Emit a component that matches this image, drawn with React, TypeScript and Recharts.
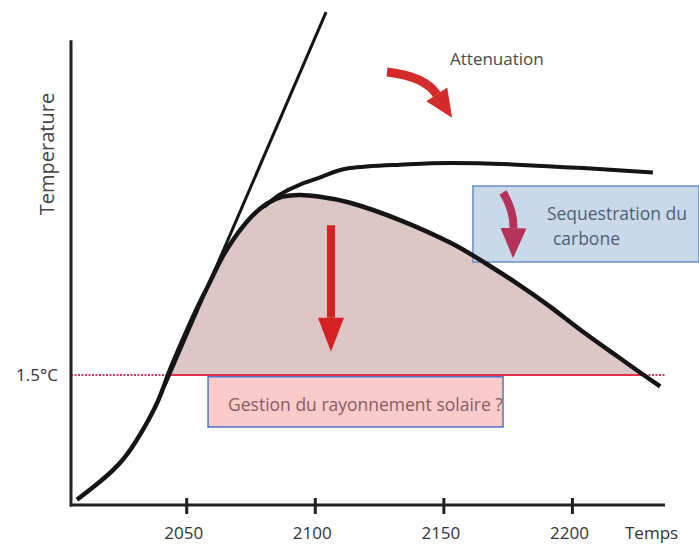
import React from 'react';
import {
  ComposedChart,
  Line,
  Area,
  XAxis,
  YAxis,
  ReferenceLine,
  ReferenceArea,
  ReferenceDot,
} from 'recharts';

const FONT = "'Open Sans', 'Noto Sans', sans-serif";

// reference trajectory: rise, peak, then decline with carbon sequestration
const BASE_YEARS = [2007.3, 2015.5, 2024.8, 2032.6, 2038.8, 2042.7, 2046.6, 2053.2, 2058.3, 2062.9, 2068, 2074.6, 2081.2, 2087.4, 2094.1, 2101.8, 2113.5, 2132.9, 2152.4, 2165.2, 2178.4, 2191.3, 2204.1, 2217.3, 2226.3, 2234.1];
const BASE_TEMPS = [0.06, 0.25, 0.51, 0.85, 1.2, 1.5, 1.78, 2.22, 2.53, 2.81, 3.06, 3.31, 3.48, 3.56, 3.58, 3.56, 3.49, 3.29, 3.03, 2.81, 2.56, 2.29, 2.0, 1.72, 1.53, 1.37];

// mitigation only: plateau
const ATT_YEARS = [2080, 2086, 2094.1, 2103, 2113.5, 2132.9, 2152.4, 2178.4, 2204.1, 2231.3];
const ATT_TEMPS = [3.44, 3.58, 3.7, 3.795, 3.89, 3.93, 3.95, 3.93, 3.89, 3.84];

// no action: straight rise
const NOACT_YEARS = [2041.6, 2104.2];
const NOACT_TEMPS = [1.38, 5.69];

const LIMIT = 1.5;
const LIMIT_START = 2042.7;
const LIMIT_END = 2227.7; // where the decline crosses 1.5°C again
const X_TICKS = [2050, 2100, 2150, 2200];
const X_DOMAIN = [2005, 2236];
const Y_DOMAIN = [0, 5.75];
const Y_AXIS_TOP = 5.365;

const toPoints = (years: number[], temps: number[]) => years.map((year, i) => ({ year, temp: temps[i] }));

const baseData = toPoints(BASE_YEARS, BASE_TEMPS);
const attData = toPoints(ATT_YEARS, ATT_TEMPS);
const noActData = toPoints(NOACT_YEARS, NOACT_TEMPS);
const shadeData = [
  ...baseData.filter(d => d.temp >= LIMIT && d.year < LIMIT_END).map(d => ({ year: d.year, band: [LIMIT, d.temp] })),
  { year: LIMIT_END, band: [LIMIT, LIMIT] },
];

// curved arrow drawn between the two segment ends
function arrowShape(color: string, along: number, bend: number, shaft: number, headLen: number, headW: number) {
  return (p: any) => {
    const { x1, y1, x2, y2 } = p;
    const dx = x2 - x1, dy = y2 - y1;
    const len = Math.hypot(dx, dy);
    const nx = -dy / len, ny = dx / len;
    const cx = x1 + along * dx + bend * len * nx;
    const cy = y1 + along * dy + bend * len * ny;
    const el = Math.hypot(x2 - cx, y2 - cy);
    const hx = (x2 - cx) / el, hy = (y2 - cy) / el;
    const bx = x2 - headLen * hx, by = y2 - headLen * hy;
    return (
      <g>
        <path d={`M${x1},${y1} Q${cx},${cy} ${bx},${by}`} stroke={color} strokeWidth={shaft} fill="none" />
        <polygon
          points={`${x2},${y2} ${bx - hy * headW / 2},${by + hx * headW / 2} ${bx + hy * headW / 2},${by - hx * headW / 2}`}
          fill={color}
        />
      </g>
    );
  };
}

const YearTick = (props: any) => {
  const { x, y, payload } = props;
  return (
    <g>
      <line x1={x} x2={x} y1={y - 7} y2={y + 9} stroke="#222" strokeWidth={3} />
      <text x={x - 3} y={y + 34} textAnchor="middle" fontSize={17} fill="#333" fontFamily={FONT}>
        {payload.value}
      </text>
    </g>
  );
};

const TempsLabel = (props: any) => {
  const vb = props.viewBox;
  return (
    <text x={vb.x + vb.width - 40} y={vb.y + 34} fontSize={17} fill="#333" fontFamily={FONT}>
      Temps
    </text>
  );
};

const TemperatureLabel = () => (
  <text transform="translate(46, 154) rotate(-90)" textAnchor="middle" dominantBaseline="central" fontSize={20} fill="#444" fontFamily={FONT}>
    Temperature
  </text>
);

const BoxText = (props: any) => {
  const { viewBox, lines, color } = props;
  return (
    <g>
      {lines.map((l: any, i: number) => (
        <text key={i} x={viewBox.x + l.dx} y={viewBox.y + l.dy} fontSize={17.5} fill={color} fontFamily={FONT}>
          {l.text}
        </text>
      ))}
    </g>
  );
};

export default function App() {
  return (
    <div style={{ position: 'absolute', left: 0, top: 0, width: 699, height: 545, background: '#fff' }}>
      <ComposedChart width={699} height={545} margin={{ top: 7, right: 34, bottom: 0, left: 0 }}>
        <XAxis
          type="number"
          dataKey="year"
          domain={X_DOMAIN}
          allowDataOverflow
          ticks={X_TICKS}
          height={40}
          axisLine={{ stroke: '#222', strokeWidth: 3 }}
          tickLine={false}
          tickSize={0}
          tickMargin={0}
          tick={<YearTick />}
          label={<TempsLabel />}
        />
        <YAxis
          type="number"
          domain={Y_DOMAIN}
          allowDataOverflow
          width={71}
          ticks={[LIMIT]}
          axisLine={false}
          tickLine={false}
          tickSize={0}
          tickMargin={13}
          tickFormatter={(v: number) => `${v}°C`}
          tick={{ fontSize: 17, fill: '#333', fontFamily: FONT }}
          label={<TemperatureLabel />}
        />

        <Area data={shadeData} dataKey="band" type="natural" fill="#dcc6c6" fillOpacity={1} stroke="none" isAnimationActive={false} />

        <ReferenceLine y={LIMIT} stroke="#c8386a" strokeWidth={2} strokeDasharray="2 1.5" />
        <ReferenceLine segment={[{ x: LIMIT_START, y: LIMIT }, { x: LIMIT_END, y: LIMIT }]} stroke="#e0304a" strokeWidth={2} />

        <ReferenceLine segment={[{ x: 2005, y: -0.02 }, { x: 2005, y: Y_AXIS_TOP }]} stroke="#222" strokeWidth={3} ifOverflow="visible" />

        <ReferenceArea
          x1={2058.3}
          x2={2173}
          y1={0.9}
          y2={1.48}
          fill="#f9cbcb"
          fillOpacity={1}
          stroke="#4d74c4"
          strokeWidth={1.5}
          ifOverflow="visible"
          label={<BoxText color="#8b5a5f" lines={[{ text: 'Gestion du rayonnement solaire ?', dx: 20, dy: 34 }]} />}
        />
        <ReferenceArea
          x1={2161.3}
          x2={2249.2}
          y1={2.806}
          y2={3.683}
          fill="#cad9ea"
          fillOpacity={1}
          stroke="#6d8ec6"
          strokeWidth={1.5}
          ifOverflow="visible"
          label={
            <BoxText
              color="#4e5f72"
              lines={[
                { text: 'Sequestration du', dx: 74, dy: 34 },
                { text: 'carbone', dx: 80, dy: 59 },
              ]}
            />
          }
        />

        <Line data={noActData} dataKey="temp" type="linear" stroke="#151515" strokeWidth={3} dot={false} isAnimationActive={false} />
        <Line data={attData} dataKey="temp" type="natural" stroke="#151515" strokeWidth={4} dot={false} isAnimationActive={false} />
        <Line data={baseData} dataKey="temp" type="natural" stroke="#151515" strokeWidth={4.5} dot={false} isAnimationActive={false} />

        <ReferenceLine
          segment={[{ x: 2127.9, y: 5.0 }, { x: 2153.2, y: 4.47 }]}
          ifOverflow="visible"
          shape={arrowShape('#d32a2a', 0.42, -0.23, 9, 28, 25)}
        />
        <ReferenceLine
          segment={[{ x: 2106.1, y: 3.23 }, { x: 2106.1, y: 1.77 }]}
          ifOverflow="visible"
          shape={arrowShape('#d42222', 0.5, 0, 8, 34, 26)}
        />
        <ReferenceLine
          segment={[{ x: 2173.0, y: 3.61 }, { x: 2176.9, y: 2.85 }]}
          ifOverflow="visible"
          shape={arrowShape('#b5335a', 0.29, -0.12, 8, 30, 26)}
        />

        <ReferenceDot
          x={2152.4}
          y={5.08}
          r={0}
          ifOverflow="visible"
          shape={(p: any) => (
            <text x={p.cx} y={p.cy} fontSize={17} fill="#4a4a4a" fontFamily={FONT}>
              Attenuation
            </text>
          )}
        />
      </ComposedChart>
    </div>
  );
}
